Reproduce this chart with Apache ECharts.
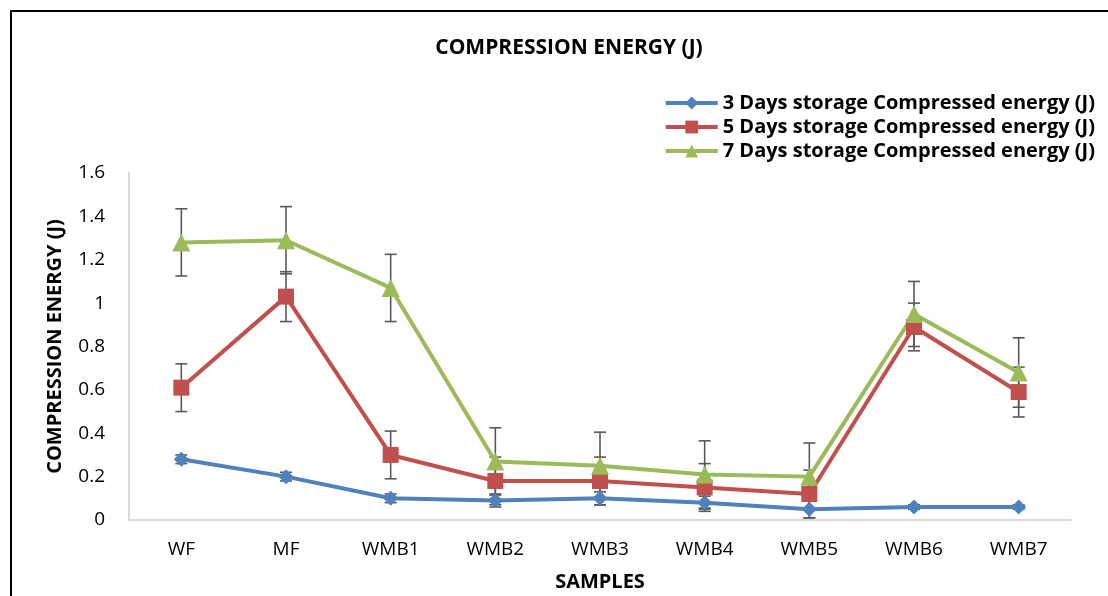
<!DOCTYPE html>
<html>
<head>
<meta charset="utf-8">
<script src="https://cdn.jsdelivr.net/npm/echarts@6/dist/echarts.min.js"></script>
<style>
  html, body { margin: 0; padding: 0; background: #fff; }
  #main { width: 1108px; height: 596px; }
</style>
</head>
<body>
<div id="main"></div>
<script>
// data
const samples = ['WF', 'MF', 'WMB1', 'WMB2', 'WMB3', 'WMB4', 'WMB5', 'WMB6', 'WMB7']
const yTicks = [0, 0.2, 0.4, 0.6, 0.8, 1, 1.2, 1.4, 1.6]

const names = [
  '3 Days storage Compressed energy (J)',
  '5 Days storage Compressed energy (J)',
  '7 Days storage Compressed energy (J)'
]
const day3 = [0.28, 0.20, 0.10, 0.09, 0.10, 0.08, 0.05, 0.06, 0.06]
const day5 = [0.61, 1.03, 0.30, 0.18, 0.18, 0.15, 0.12, 0.89, 0.59]
const day7 = [1.28, 1.29, 1.07, 0.27, 0.25, 0.21, 0.20, 0.95, 0.68]

// +/- error for each point
const day3Err = [0.02, 0.02, 0.02, 0.03, 0.03, 0.03, 0.04, 0.01, 0.01]
const day5Err = [0.11, 0.115, 0.11, 0.11, 0.11, 0.11, 0.11, 0.11, 0.115]
const day7Err = [0.155, 0.155, 0.155, 0.155, 0.155, 0.155, 0.155, 0.15, 0.16]

const colors = ['#4F81BD', '#C0504D', '#9BBB59']

function errData (vals, errs) {
  return vals.map(function (v, i) {
    return [i, v - errs[i], v + errs[i]]
  })
}

function errSeries (vals, errs) {
  return {
    type: 'custom',
    z: 1,
    silent: true,
    data: errData(vals, errs),
    encode: { x: 0, y: [1, 2] },
    renderItem: function (params, api) {
      const i = api.value(0)
      const lo = api.coord([i, api.value(1)])
      const hi = api.coord([i, api.value(2)])
      const w = 6
      const st = { stroke: '#595959', lineWidth: 1.6 }
      return {
        type: 'group',
        children: [
          { type: 'line', shape: { x1: hi[0], y1: hi[1], x2: lo[0], y2: lo[1] }, style: st },
          { type: 'line', shape: { x1: hi[0] - w, y1: hi[1], x2: hi[0] + w, y2: hi[1] }, style: st },
          { type: 'line', shape: { x1: lo[0] - w, y1: lo[1], x2: lo[0] + w, y2: lo[1] }, style: st }
        ]
      }
    }
  }
}

function lineSeries (name, vals, symbol, size, color) {
  return {
    name: name,
    type: 'line',
    z: 3,
    data: vals,
    symbol: symbol,
    symbolSize: size,
    showAllSymbol: true,
    itemStyle: { color: color },
    lineStyle: { color: color, width: 4 }
  }
}

var myChart = echarts.init(document.getElementById('main'))

var option = {
  animation: false,
  color: colors,
  graphic: [
    {
      type: 'rect',
      shape: { x: 11, y: 11, width: 1120, height: 620 },
      style: { fill: 'none', stroke: '#000', lineWidth: 2 },
      silent: true
    }
  ],
  title: {
    text: 'COMPRESSION ENERGY (J)',
    left: 564,
    textAlign: 'center',
    top: 33,
    textStyle: {
      fontFamily: 'Open Sans',
      fontWeight: 'bold',
      fontSize: 21,
      color: '#000'
    }
  },
  legend: {
    data: names,
    orient: 'vertical',
    right: 8,
    top: 88,
    itemWidth: 52,
    itemHeight: 16,
    itemGap: 4,
    lineStyle: { width: 4 },
    textStyle: {
      fontFamily: 'Open Sans',
      fontWeight: 'bold',
      fontSize: 20,
      color: '#000'
    }
  },
  grid: {
    left: 129,
    right: 37,
    top: 173,
    bottom: 76,
    outerBoundsMode: 'none',
    containLabel: false
  },
  xAxis: {
    type: 'category',
    data: samples,
    boundaryGap: true,
    name: 'SAMPLES',
    nameLocation: 'middle',
    nameGap: 52,
    nameTextStyle: {
      fontFamily: 'Open Sans',
      fontWeight: 'bold',
      fontSize: 20,
      color: '#000'
    },
    axisLine: { lineStyle: { color: '#D9D9D9', width: 2 } },
    axisTick: { show: false },
    axisLabel: {
      margin: 20,
      fontFamily: 'Open Sans',
      fontSize: 19,
      color: '#000'
    }
  },
  yAxis: {
    type: 'value',
    min: yTicks[0],
    max: yTicks[yTicks.length - 1],
    interval: 0.2,
    name: 'COMPRESSION ENERGY (J)',
    nameLocation: 'middle',
    nameGap: 64,
    nameTextStyle: {
      fontFamily: 'Open Sans',
      fontWeight: 'bold',
      fontSize: 20,
      color: '#000'
    },
    axisLine: { show: true, lineStyle: { color: '#D9D9D9', width: 2 } },
    axisTick: { show: false },
    splitLine: { show: false },
    axisLabel: {
      margin: 24,
      fontFamily: 'Open Sans',
      fontSize: 19,
      color: '#000'
    }
  },
  series: [
    errSeries(day3, day3Err),
    errSeries(day5, day5Err),
    errSeries(day7, day7Err),
    lineSeries(names[0], day3, 'diamond', 15, colors[0]),
    lineSeries(names[1], day5, 'rect', 16, colors[1]),
    lineSeries(names[2], day7, 'triangle', 18, colors[2])
  ]
}

myChart.setOption(option)
</script>
</body>
</html>
